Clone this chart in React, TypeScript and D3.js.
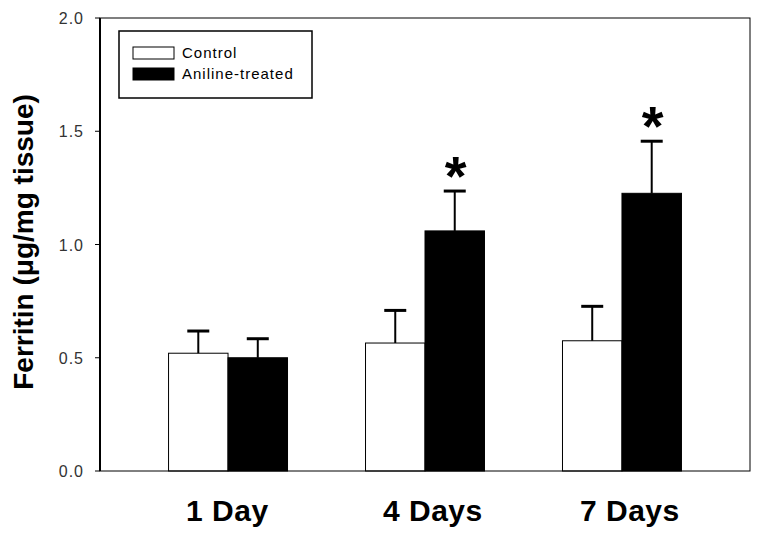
import React from "react";
import * as d3 from "d3";

const width = 764;
const height = 538;
const margin = { top: 18, right: 14, bottom: 67, left: 100 };

const days = ["1 Day", "4 Days", "7 Days"];
const seriesNames = ["Control", "Aniline-treated"];
const controlMeans = [0.52, 0.565, 0.575];
const controlErr = [0.098, 0.144, 0.152];
const anilineMeans = [0.5, 1.06, 1.226];
const anilineErr = [0.084, 0.176, 0.23];
const significant = [false, true, true];
const yTicks = [0, 0.5, 1.0, 1.5, 2.0];

const series = [
  { name: seriesNames[0], means: controlMeans, errs: controlErr, fill: "#fff" },
  { name: seriesNames[1], means: anilineMeans, errs: anilineErr, fill: "#000" },
];

export default function App() {
  const x0 = margin.left;
  const x1 = width - margin.right;
  const yBase = height - margin.bottom;

  const x = d3
    .scaleBand()
    .domain(days)
    .range([x0, x1])
    .paddingInner(0.396)
    .paddingOuter(0.348);
  const sub = d3
    .scaleBand()
    .domain(seriesNames)
    .range([0, x.bandwidth()]);
  const y = d3.scaleLinear().domain([0, 2]).range([yBase, margin.top]);

  const capHalf = 11;

  return (
    <svg
      width={width}
      height={height}
      style={{ position: "absolute", left: 0, top: 0, background: "#fff" }}
      fontFamily="Liberation Sans, Arial, sans-serif"
    >
      {/* bars */}
      {series.map((s) =>
        days.map((d, i) => {
          const bx = (x(d) as number) + (sub(s.name) as number);
          return (
            <rect
              key={`${s.name}_${d}`}
              x={bx}
              y={y(s.means[i])}
              width={sub.bandwidth()}
              height={yBase - y(s.means[i])}
              fill={s.fill}
              stroke="#000"
              strokeWidth={1}
            />
          );
        })
      )}

      {/* error bars (upper only) */}
      {series.map((s) =>
        days.map((d, i) => {
          const cx = (x(d) as number) + (sub(s.name) as number) + sub.bandwidth() / 2;
          const top = y(s.means[i] + s.errs[i]);
          return (
            <g key={`err_${s.name}_${d}`} stroke="#000">
              <line x1={cx} x2={cx} y1={y(s.means[i])} y2={top} strokeWidth={2} />
              <line x1={cx - capHalf} x2={cx + capHalf} y1={top} y2={top} strokeWidth={3} />
            </g>
          );
        })
      )}

      {/* significance marks */}
      {days.map((d, i) => {
        if (!significant[i]) return null;
        const cx = (x(d) as number) + (sub(seriesNames[1]) as number) + sub.bandwidth() / 2;
        const top = y(anilineMeans[i] + anilineErr[i]);
        return (
          <text
            key={`sig_${d}`}
            x={cx + 1}
            y={top + 4}
            textAnchor="middle"
            fontSize={56}
            fontWeight="bold"
          >
            *
          </text>
        );
      })}

      {/* frame */}
      <rect
        x={x0}
        y={margin.top}
        width={x1 - x0}
        height={yBase - margin.top}
        fill="none"
        stroke="#000"
        strokeWidth={1}
      />
      <line x1={x0} x2={x0} y1={margin.top} y2={yBase} stroke="#000" strokeWidth={2} />

      {/* y axis */}
      {yTicks.map((t) => (
        <g key={`yt_${t}`}>
          <line x1={x0 - 5} x2={x0} y1={y(t)} y2={y(t)} stroke="#000" strokeWidth={1} />
          <text
            x={x0 - 16}
            y={y(t) + 6}
            textAnchor="end"
            fontSize={16}
            fill="#333"
            letterSpacing={1}
          >
            {t.toFixed(1)}
          </text>
        </g>
      ))}
      <text
        transform={`translate(33 242) rotate(-90)`}
        textAnchor="middle"
        fontSize={28}
        fontWeight="bold"
      >
        Ferritin (μg/mg tissue)
      </text>

      {/* x labels: left-aligned a fixed distance before each group centre */}
      {days.map((d) => (
        <text
          key={`xl_${d}`}
          x={(x(d) as number) + x.bandwidth() / 2 - 42}
          y={521}
          textAnchor="start"
          fontSize={30}
          fontWeight="bold"
          letterSpacing={0.5}
        >
          {d}
        </text>
      ))}

      {/* legend */}
      <g>
        <rect x={119} y={31} width={193} height={67} fill="#fff" stroke="#000" strokeWidth={1.5} />
        {series.map((s, i) => (
          <g key={`lg_${s.name}`} transform={`translate(133 ${47 + i * 21})`}>
            <rect x={0} y={0} width={41} height={12} fill={s.fill} stroke="#000" strokeWidth={1} />
            <text x={49} y={11} fontSize={15} letterSpacing={1}>
              {s.name}
            </text>
          </g>
        ))}
      </g>
    </svg>
  );
}
